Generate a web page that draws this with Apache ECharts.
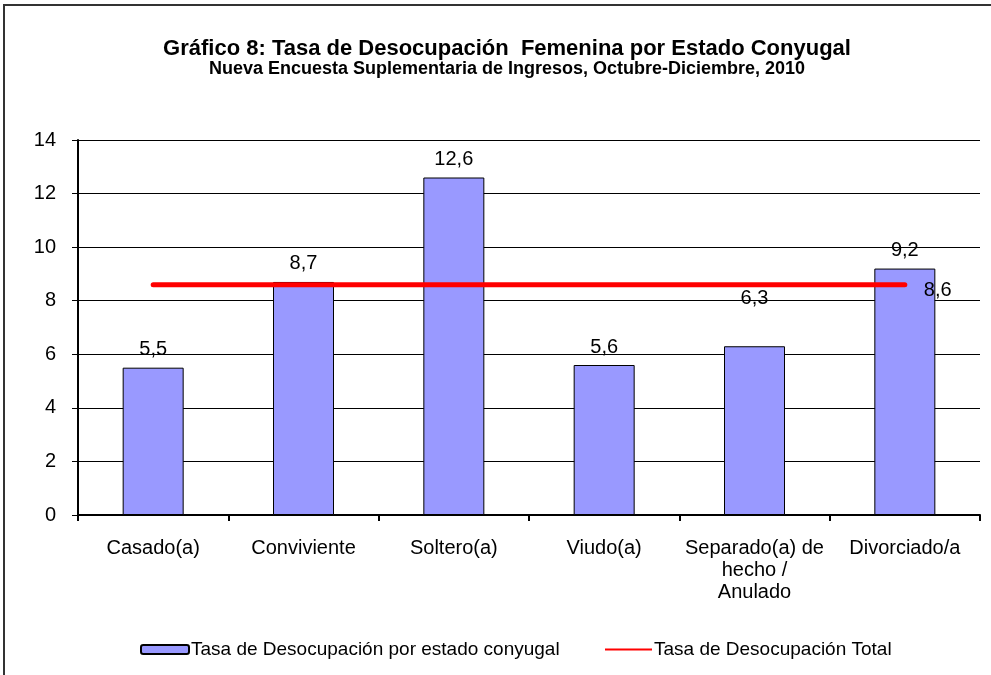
<!DOCTYPE html>
<html>
<head>
<meta charset="utf-8">
<script src="https://cdn.jsdelivr.net/npm/echarts@6/dist/echarts.min.js"></script>
<style>
  html, body { margin: 0; padding: 0; background: #fff; }
  #chart { width: 991px; height: 675px; }
</style>
</head>
<body>
<div id="chart"></div>
<script>
// datos del gráfico
var categorias = ['Casado(a)', 'Conviviente', 'Soltero(a)', 'Viudo(a)', 'Separado(a) de\nhecho /\nAnulado', 'Divorciado/a'];
var tasaConyugal = [5.5, 8.7, 12.6, 5.6, 6.3, 9.2];
var tasaTotal = [8.6, 8.6, 8.6, 8.6, 8.6, 8.6];
var yTicks = [0, 2, 4, 6, 8, 10, 12, 14];

var fuente = 'Liberation Sans, Arial, sans-serif';
var chart = echarts.init(document.getElementById('chart'));

function coma(v) { return String(v).replace('.', ','); }

var barData = tasaConyugal.map(function (v, i) {
  var d = { value: v };
  if (i === 4) d.label = { offset: [0, -30] };   // etiqueta desplazada como en el original
  return d;
});

var lineData = tasaTotal.map(function (v, i) {
  var d = { value: v };
  if (i === tasaTotal.length - 1) {
    d.label = { show: true, position: 'right', distance: 4, offset: [15, 6] };
  }
  return d;
});

var option = {
  animation: false,
  textStyle: { fontFamily: fuente },
  title: [{
    text: 'Gráfico 8: Tasa de Desocupación  Femenina por Estado Conyugal',
    left: 502, top: 33, textAlign: 'center',
    textStyle: { fontFamily: fuente, fontSize: 22, fontWeight: 'bold', color: '#000' }
  }, {
    text: 'Nueva Encuesta Suplementaria de Ingresos, Octubre-Diciembre, 2010',
    left: 502, top: 55, textAlign: 'center',
    textStyle: { fontFamily: fuente, fontSize: 18, fontWeight: 'bold', color: '#000' }
  }],
  graphic: [{
    type: 'rect',
    shape: { x: 4, y: 5, width: 1000, height: 700 },
    style: { fill: 'none', stroke: '#333', lineWidth: 2 }
  }],
  legend: [{
    top: 635, left: 135,
    itemWidth: 48, itemHeight: 9,
    textStyle: { fontFamily: fuente, fontSize: 19, color: '#000', padding: [0, 0, 0, -3] },
    data: [
      { name: 'Tasa de Desocupación por estado conyugal', itemStyle: { color: '#9999ff', borderColor: '#000', borderWidth: 2 } }
    ]
  }, {
    top: 635, left: 600,
    itemWidth: 47, itemHeight: 2,
    textStyle: { fontFamily: fuente, fontSize: 19, color: '#000', padding: [0, 0, 0, -3] },
    data: [
      { name: 'Tasa de Desocupación Total', icon: 'rect', itemStyle: { color: '#ff0000' } }
    ]
  }],
  grid: { left: 78, right: 11, top: 140, bottom: 160 },
  xAxis: {
    type: 'category',
    data: categorias,
    axisLine: { lineStyle: { color: '#000', width: 2 } },
    axisTick: { show: true, length: 6, lineStyle: { color: '#000', width: 2 } },
    axisLabel: { color: '#000', fontSize: 20, margin: 22, lineHeight: 22, interval: 0 }
  },
  yAxis: {
    type: 'value',
    min: 0, max: 14, interval: 2,
    axisLine: { show: true, lineStyle: { color: '#000', width: 2 } },
    axisTick: { show: true, length: 6, inside: false, lineStyle: { color: '#000', width: 1 } },
    axisLabel: {
      color: '#000', fontSize: 20, margin: 22,
      formatter: function (v) { return yTicks.indexOf(v) >= 0 ? String(v) : ''; }
    },
    splitLine: { show: true, lineStyle: { color: '#000', width: 1 } }
  },
  series: [{
    name: 'Tasa de Desocupación por estado conyugal',
    type: 'bar',
    barWidth: 61,
    data: barData,
    itemStyle: { color: '#9999ff', borderColor: '#000', borderWidth: 1 },
    label: {
      show: true, position: 'top', distance: 8,
      color: '#000', fontSize: 20, fontFamily: fuente,
      formatter: function (p) { return coma(p.value); }
    },
    z: 2
  }, {
    name: 'Tasa de Desocupación Total',
    type: 'line',
    data: lineData,
    symbol: 'circle',
    symbolSize: 0,
    showSymbol: true,
    lineStyle: { color: '#ff0000', width: 5, cap: 'round' },
    itemStyle: { color: '#ff0000' },
    label: {
      show: false, color: '#000', fontSize: 20, fontFamily: fuente,
      formatter: function (p) { return coma(p.value); }
    },
    z: 3
  }]
};

chart.setOption(option);
</script>
</body>
</html>
